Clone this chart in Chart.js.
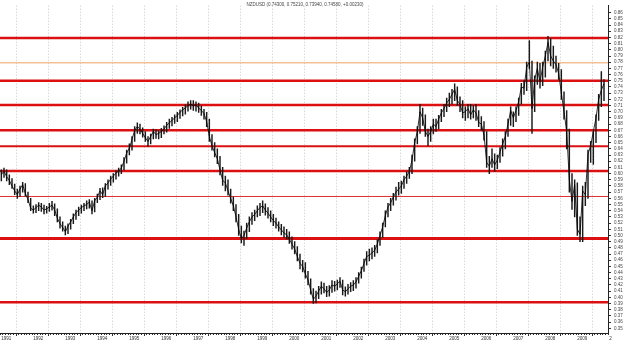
<!DOCTYPE html>
<html>
<head>
<meta charset="utf-8">
<script src="https://cdn.jsdelivr.net/npm/chart.js@4.4.1/dist/chart.umd.min.js"></script>
<style>
  html, body { margin: 0; padding: 0; background: #fff; }
</style>
</head>
<body>
<canvas id="chart" width="625" height="340"></canvas>
<script>
// NZDUSD monthly bars, Jan 1991 .. Nov 2009
const startYear = 1991
const title = 'NZDUSD (0.74300, 0.75210, 0.73940, 0.74580, +0.00230)'
const yearTicks = [1991, 1992, 1993, 1994, 1995, 1996, 1997, 1998, 1999, 2000,
  2001, 2002, 2003, 2004, 2005, 2006, 2007, 2008, 2009, 2010]
const yearLabels = ['1991', '1992', '1993', '1994', '1995', '1996', '1997', '1998', '1999', '2000',
  '2001', '2002', '2003', '2004', '2005', '2006', '2007', '2008', '2009', '2']

const closes = [
  0.598, 0.604, 0.595, 0.589, 0.580, 0.572, 0.566, 0.575, 0.582, 0.568, 0.558, 0.544, // 1991
  0.541, 0.545, 0.549, 0.546, 0.541, 0.543, 0.546, 0.549, 0.541, 0.528, 0.519, 0.513, // 1992
  0.506, 0.515, 0.522, 0.530, 0.537, 0.541, 0.545, 0.548, 0.550, 0.554, 0.540, 0.556, // 1993
  0.562, 0.572, 0.566, 0.580, 0.585, 0.591, 0.596, 0.601, 0.604, 0.609, 0.620, 0.633, // 1994
  0.641, 0.655, 0.670, 0.676, 0.672, 0.665, 0.658, 0.652, 0.660, 0.668, 0.663, 0.665, // 1995
  0.668, 0.672, 0.678, 0.682, 0.686, 0.690, 0.694, 0.699, 0.703, 0.706, 0.710, 0.712, // 1996
  0.710, 0.711, 0.706, 0.702, 0.697, 0.684, 0.660, 0.645, 0.634, 0.624, 0.606, 0.589, // 1997
  0.585, 0.572, 0.560, 0.548, 0.530, 0.510, 0.495, 0.500, 0.512, 0.522, 0.530, 0.534, // 1998
  0.540, 0.545, 0.548, 0.541, 0.536, 0.530, 0.524, 0.520, 0.514, 0.509, 0.504, 0.501, // 1999
  0.494, 0.486, 0.478, 0.466, 0.455, 0.450, 0.438, 0.428, 0.412, 0.397, 0.402, 0.410, // 2000
  0.418, 0.414, 0.408, 0.412, 0.420, 0.418, 0.422, 0.426, 0.412, 0.409, 0.414, 0.418, // 2001
  0.420, 0.425, 0.434, 0.443, 0.455, 0.466, 0.468, 0.472, 0.476, 0.486, 0.500, 0.514, // 2002
  0.532, 0.546, 0.553, 0.562, 0.570, 0.575, 0.580, 0.590, 0.596, 0.603, 0.622, 0.650, // 2003
  0.668, 0.700, 0.690, 0.668, 0.660, 0.668, 0.680, 0.676, 0.688, 0.698, 0.705, 0.714, // 2004
  0.720, 0.728, 0.736, 0.718, 0.712, 0.698, 0.700, 0.705, 0.695, 0.703, 0.698, 0.683, // 2005
  0.680, 0.662, 0.618, 0.612, 0.624, 0.614, 0.622, 0.635, 0.648, 0.660, 0.680, 0.702, // 2006
  0.690, 0.702, 0.716, 0.740, 0.738, 0.772, 0.780, 0.705, 0.752, 0.770, 0.748, 0.772, // 2007
  0.790, 0.812, 0.790, 0.782, 0.776, 0.762, 0.730, 0.700, 0.668, 0.590, 0.555, 0.582, // 2008
  0.510, 0.502, 0.572, 0.566, 0.632, 0.645, 0.668, 0.690, 0.720, 0.735, 0.745        // 2009
]
const highs = [
  0.606, 0.609, 0.606, 0.598, 0.592, 0.583, 0.575, 0.580, 0.586, 0.584, 0.570, 0.560,
  0.548, 0.550, 0.553, 0.552, 0.549, 0.547, 0.552, 0.555, 0.551, 0.543, 0.530, 0.522,
  0.515, 0.519, 0.526, 0.535, 0.541, 0.546, 0.549, 0.552, 0.556, 0.558, 0.556, 0.560,
  0.567, 0.576, 0.577, 0.584, 0.590, 0.596, 0.600, 0.605, 0.609, 0.614, 0.626, 0.638,
  0.648, 0.660, 0.676, 0.682, 0.680, 0.674, 0.668, 0.660, 0.664, 0.672, 0.671, 0.669,
  0.673, 0.677, 0.683, 0.688, 0.691, 0.695, 0.699, 0.703, 0.707, 0.711, 0.716, 0.718,
  0.718, 0.716, 0.714, 0.709, 0.704, 0.699, 0.688, 0.663, 0.650, 0.640, 0.628, 0.610,
  0.596, 0.590, 0.575, 0.562, 0.550, 0.534, 0.515, 0.507, 0.520, 0.530, 0.537, 0.541,
  0.548, 0.552, 0.556, 0.551, 0.545, 0.540, 0.534, 0.528, 0.522, 0.518, 0.514, 0.510,
  0.506, 0.498, 0.490, 0.482, 0.470, 0.460, 0.456, 0.442, 0.430, 0.414, 0.410, 0.418,
  0.425, 0.423, 0.418, 0.419, 0.427, 0.426, 0.428, 0.432, 0.428, 0.417, 0.421, 0.424,
  0.427, 0.432, 0.440, 0.449, 0.462, 0.474, 0.478, 0.480, 0.484, 0.493, 0.506, 0.520,
  0.540, 0.552, 0.560, 0.568, 0.578, 0.586, 0.588, 0.596, 0.603, 0.610, 0.630, 0.656,
  0.676, 0.712, 0.706, 0.695, 0.672, 0.676, 0.688, 0.688, 0.694, 0.704, 0.712, 0.722,
  0.730, 0.736, 0.745, 0.740, 0.724, 0.718, 0.708, 0.712, 0.712, 0.710, 0.712, 0.702,
  0.692, 0.684, 0.668, 0.628, 0.640, 0.632, 0.630, 0.642, 0.656, 0.668, 0.688, 0.708,
  0.700, 0.708, 0.722, 0.746, 0.750, 0.780, 0.815, 0.782, 0.758, 0.780, 0.778, 0.780,
  0.798, 0.822, 0.818, 0.806, 0.790, 0.778, 0.768, 0.732, 0.702, 0.672, 0.600, 0.590,
  0.585, 0.530, 0.580, 0.586, 0.638, 0.652, 0.668, 0.695, 0.728, 0.765, 0.752
]
const lows = [
  0.588, 0.594, 0.588, 0.582, 0.576, 0.566, 0.560, 0.563, 0.570, 0.564, 0.553, 0.540,
  0.536, 0.537, 0.540, 0.539, 0.535, 0.536, 0.539, 0.541, 0.532, 0.522, 0.512, 0.507,
  0.501, 0.503, 0.510, 0.519, 0.526, 0.532, 0.536, 0.540, 0.543, 0.544, 0.535, 0.538,
  0.553, 0.558, 0.561, 0.563, 0.575, 0.581, 0.586, 0.591, 0.596, 0.600, 0.606, 0.617,
  0.630, 0.638, 0.652, 0.665, 0.664, 0.659, 0.652, 0.644, 0.648, 0.656, 0.657, 0.656,
  0.658, 0.664, 0.667, 0.673, 0.677, 0.681, 0.684, 0.689, 0.693, 0.696, 0.701, 0.704,
  0.702, 0.701, 0.699, 0.694, 0.688, 0.676, 0.652, 0.638, 0.627, 0.616, 0.598, 0.581,
  0.572, 0.565, 0.552, 0.540, 0.522, 0.500, 0.488, 0.484, 0.495, 0.506, 0.518, 0.524,
  0.530, 0.532, 0.537, 0.533, 0.528, 0.522, 0.516, 0.512, 0.507, 0.501, 0.497, 0.494,
  0.487, 0.478, 0.470, 0.459, 0.446, 0.441, 0.431, 0.420, 0.405, 0.390, 0.391, 0.398,
  0.405, 0.407, 0.401, 0.402, 0.408, 0.410, 0.412, 0.416, 0.404, 0.402, 0.405, 0.409,
  0.411, 0.415, 0.423, 0.431, 0.442, 0.452, 0.459, 0.462, 0.466, 0.472, 0.484, 0.497,
  0.514, 0.530, 0.540, 0.549, 0.557, 0.565, 0.568, 0.576, 0.584, 0.592, 0.600, 0.620,
  0.648, 0.665, 0.678, 0.660, 0.645, 0.652, 0.664, 0.668, 0.672, 0.684, 0.692, 0.700,
  0.708, 0.712, 0.718, 0.710, 0.700, 0.690, 0.686, 0.690, 0.688, 0.690, 0.686, 0.676,
  0.670, 0.654, 0.610, 0.600, 0.610, 0.604, 0.608, 0.618, 0.628, 0.640, 0.660, 0.678,
  0.676, 0.684, 0.694, 0.712, 0.728, 0.734, 0.770, 0.665, 0.700, 0.744, 0.738, 0.742,
  0.756, 0.782, 0.774, 0.770, 0.764, 0.752, 0.720, 0.688, 0.640, 0.570, 0.542, 0.530,
  0.500, 0.490, 0.490, 0.548, 0.560, 0.618, 0.615, 0.650, 0.686, 0.708, 0.718
]

// support / resistance levels
const levels = [0.819, 0.779, 0.750, 0.711, 0.670, 0.644, 0.604, 0.563, 0.495, 0.392]
const levelColors = ['#dc1010', '#f0a060', '#dc1010', '#dc1010', '#dc1010',
  '#dc1010', '#dc1010', '#e03030', '#dc1010', '#dc1010']
const levelWidths = [2.5, 1, 2.5, 2.5, 2.5, 2, 2.5, 1, 3, 2.5]

const yTicks = []
for (let i = 35; i <= 86; i++) yTicks.push(i / 100)

const monthX = i => startYear + (i + 0.5) / 12
const axisFont = { family: 'Liberation Sans', size: 4.5 }

const levelSets = levels.map((v, i) => ({
  type: 'line',
  data: [{ x: yearTicks[0], y: v }, { x: yearTicks[yearTicks.length - 1], y: v }],
  borderColor: levelColors[i],
  borderWidth: levelWidths[i],
  pointRadius: 0,
  order: 2
}))

const titlePlugin = {
  id: 'topTitle',
  afterDraw(chart) {
    const ctx = chart.ctx
    ctx.save()
    ctx.font = '4.5px "Liberation Sans"'
    ctx.fillStyle = '#444'
    ctx.textAlign = 'center'
    ctx.fillText(title, 305, 6)
    ctx.restore()
  }
}

new Chart(document.getElementById('chart'), {
  type: 'line',
  data: {
    datasets: [
      {
        type: 'bar',
        data: highs.map((h, i) => ({ x: monthX(i), y: [lows[i], h] })),
        backgroundColor: '#1a1a1a',
        barThickness: 0.8,
        order: 1
      },
      {
        type: 'line',
        data: closes.map((c, i) => ({ x: monthX(i), y: c })),
        borderColor: '#000',
        borderWidth: 0.8,
        pointRadius: 0,
        tension: 0,
        order: 0
      },
      ...levelSets
    ]
  },
  options: {
    responsive: false,
    animation: false,
    devicePixelRatio: 1,
    layout: { padding: 0 },
    plugins: { legend: { display: false }, tooltip: { enabled: false } },
    scales: {
      x: {
        type: 'linear',
        min: yearTicks[0],
        max: yearTicks[yearTicks.length - 1],
        offset: false,
        afterBuildTicks: axis => { axis.ticks = yearTicks.map(v => ({ value: v })) },
        afterFit: axis => { axis.height = 7 },
        ticks: {
          autoSkip: false,
          maxRotation: 0,
          align: 'start',
          padding: 0,
          color: '#333',
          font: axisFont,
          callback: (v, i) => ' ' + yearLabels[i]
        },
        grid: { color: '#c8c8c8', tickLength: 3, tickColor: '#333', tickBorderDash: [] },
        border: { display: true, color: '#222', dash: [1, 2] }
      },
      months: {
        type: 'linear',
        position: 'bottom',
        weight: -1,
        min: yearTicks[0],
        max: yearTicks[yearTicks.length - 1],
        offset: false,
        afterBuildTicks: axis => {
          const t = []
          for (let m = 0; m <= (yearTicks.length - 1) * 12; m++) t.push({ value: startYear + m / 12 })
          axis.ticks = t
        },
        afterFit: axis => { axis.height = 0 },
        ticks: { display: false },
        grid: { drawOnChartArea: false, tickLength: 2, tickColor: '#333' },
        border: { display: false }
      },
      y: {
        position: 'right',
        min: 0.3424,
        max: 0.8713,
        afterBuildTicks: axis => { axis.ticks = yTicks.map(v => ({ value: v })) },
        afterFit: axis => { axis.width = 17 },
        ticks: {
          autoSkip: false,
          padding: 3,
          color: '#444',
          font: axisFont,
          callback: v => v.toFixed(2)
        },
        grid: { drawOnChartArea: false, tickLength: 3, tickColor: '#333' },
        border: { display: true, color: '#222' }
      }
    }
  },
  plugins: [titlePlugin]
})
</script>
</body>
</html>
